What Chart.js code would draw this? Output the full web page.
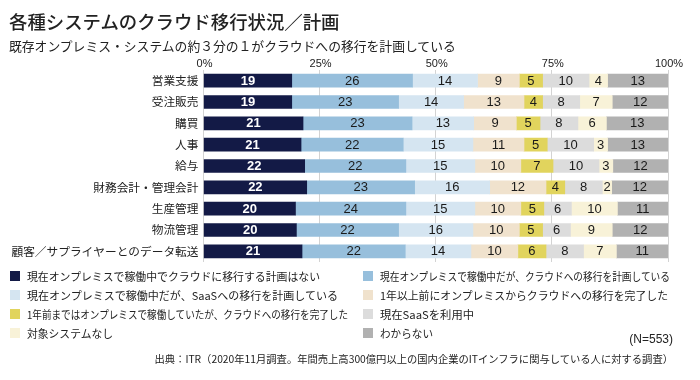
<!DOCTYPE html>
<html><head><meta charset="utf-8">
<script src="https://cdn.jsdelivr.net/npm/chart.js@4/dist/chart.umd.min.js"></script>
<style>
html,body{margin:0;padding:0;background:#fff;}
#wrap{position:relative;width:700px;height:380px;overflow:hidden;font-family:"Noto Sans CJK JP","Noto Sans",sans-serif;color:#222;}
#c{position:absolute;left:0;top:0;}
.t{position:absolute;white-space:nowrap;}
#title{left:9px;top:8px;font-size:18.4px;font-weight:500;}
#sub{left:9px;top:36px;font-size:12.8px;}
.lg{position:absolute;font-size:11px;white-space:nowrap;line-height:14px;}
.lg i{position:absolute;width:10px;height:10px;left:0;top:2px;}
.lg span{position:absolute;left:17px;top:0;transform-origin:0 50%;}
#n{right:27px;top:332px;font-size:12px;font-family:"Liberation Sans",Arial,sans-serif;}
#src{right:27px;top:351px;font-size:10.3px;}
</style></head>
<body><div id="wrap">
<canvas id="c" width="700" height="380"></canvas>
<div class="t" id="title">各種システムのクラウド移行状況／計画</div>
<div class="t" id="sub">既存オンプレミス・システムの約３分の１がクラウドへの移行を計画している</div>
<div id="legend"></div>
<div class="t" id="n">(N=553)</div>
<div class="t" id="src">出典：ITR（2020年11月調査。年間売上高300億円以上の国内企業のITインフラに関与している人に対する調査）</div>
</div>
<script>
const categories = ["営業支援","受注販売","購買","人事","給与","財務会計・管理会計","生産管理","物流管理","顧客／サプライヤーとのデータ転送"];
const seriesNames = [
 "現在オンプレミスで稼働中でクラウドに移行する計画はない",
 "現在オンプレミスで稼働中だが、クラウドへの移行を計画している",
 "現在オンプレミスで稼働中だが、SaaSへの移行を計画している",
 "1年以上前にオンプレミスからクラウドへの移行を完了した",
 "1年前まではオンプレミスで稼働していたが、クラウドへの移行を完了した",
 "現在SaaSを利用中",
 "対象システムなし",
 "わからない"
];
const noPlan      = [19,19,21,21,22,22,20,20,21];
const planCloud   = [26,23,23,22,22,23,24,22,22];
const planSaaS    = [14,14,13,15,15,16,15,16,14];
const doneOld     = [9,13,9,11,10,12,10,10,10];
const doneRecent  = [5,4,5,5,7,4,5,5,6];
const usingSaaS   = [10,8,8,10,10,8,6,6,8];
const noSystem    = [4,7,6,3,3,2,10,9,7];
const unknown     = [13,12,13,13,12,12,11,12,11];
const tickLabels  = ["0%","25%","50%","75%","100%"];
const colors = ["#131a46","#97bfdc","#d5e5f1","#f0e2cd","#e1d45d","#dcdcdc","#f8f2d8","#b1b1b1"];

const raw = [noPlan,planCloud,planSaaS,doneOld,doneRecent,usingSaaS,noSystem,unknown];
const totals = categories.map((_,i)=>raw.reduce((s,a)=>s+a[i],0));
const datasets = raw.map((arr,k)=>({
  label: seriesNames[k],
  data: arr.map((v,i)=>v/totals[i]*100),
  rawValues: arr,
  backgroundColor: colors[k],
  borderWidth: 0,
  barThickness: 13
}));

const labelPlugin = {
  id:'labels',
  afterDatasetsDraw(chart){
    const ctx = chart.ctx;
    ctx.save();
    ctx.textAlign='center'; ctx.textBaseline='middle';
    chart.data.datasets.forEach((ds,k)=>{
      const meta = chart.getDatasetMeta(k);
      meta.data.forEach((el,i)=>{
        const x = (el.x + el.base)/2;
        ctx.fillStyle = k===0 ? '#ffffff' : '#1a1a1a';
        ctx.font = (k===0?'bold ':'')+'13px "Liberation Sans", Arial, sans-serif';
        ctx.fillText(String(ds.rawValues[i]), x, el.y+0.5);
      });
    });
    // x-axis tick labels above the plot
    const xs = chart.scales.x;
    ctx.fillStyle = '#222';
    ctx.font = '11px "Liberation Sans", Arial, sans-serif';
    xs.ticks.forEach((t,i)=>{
      ctx.fillText(tickLabels[i], xs.getPixelForValue(t.value)+1, chart.chartArea.top-6);
    });
    ctx.restore();
  }
};

new Chart(document.getElementById('c'), {
  type:'bar',
  data:{labels:categories, datasets},
  options:{
    indexAxis:'y',
    responsive:false,
    animation:false,
    layout:{padding:{top:55,bottom:118,left:0,right:32}},
    plugins:{legend:{display:false},tooltip:{enabled:false}},
    scales:{
      x:{
        position:'top', stacked:true, min:0, max:100,
        grid:{color:'#d3d3d3',lineWidth:1,drawTicks:false},
        border:{display:false},
        ticks:{stepSize:25,display:false},
        afterFit(s){s.height=15;}
      },
      y:{
        stacked:true,
        grid:{display:false,drawTicks:false},
        border:{display:false},
        ticks:{padding:5,color:'#222',font:{size:11.7,family:'"Noto Sans CJK JP", sans-serif'}},
        afterFit(s){s.width=203.5;}
      }
    }
  },
  plugins:[labelPlugin]
});

// legend in two columns; text compressed to the reference's widths
const lg = document.getElementById('legend');
const rowsY = [269,288,307,326];
const legendTextWidths = [293,290,311,288,321,94,86,53];
seriesNames.forEach((name,k)=>{
  const col = k%2, row = Math.floor(k/2);
  const d = document.createElement('div');
  d.className='lg';
  d.style.left = (col===0?10:363)+'px';
  d.style.top = rowsY[row]+'px';
  d.innerHTML = '<i style="background:'+colors[k]+'"></i><span></span>';
  const sp = d.querySelector('span');
  sp.textContent = name;
  lg.appendChild(d);
  const w = sp.getBoundingClientRect().width;
  if (w > 0) sp.style.transform = 'scaleX('+Math.min(1.1, legendTextWidths[k]/w)+')';
});
</script>
</body></html>
